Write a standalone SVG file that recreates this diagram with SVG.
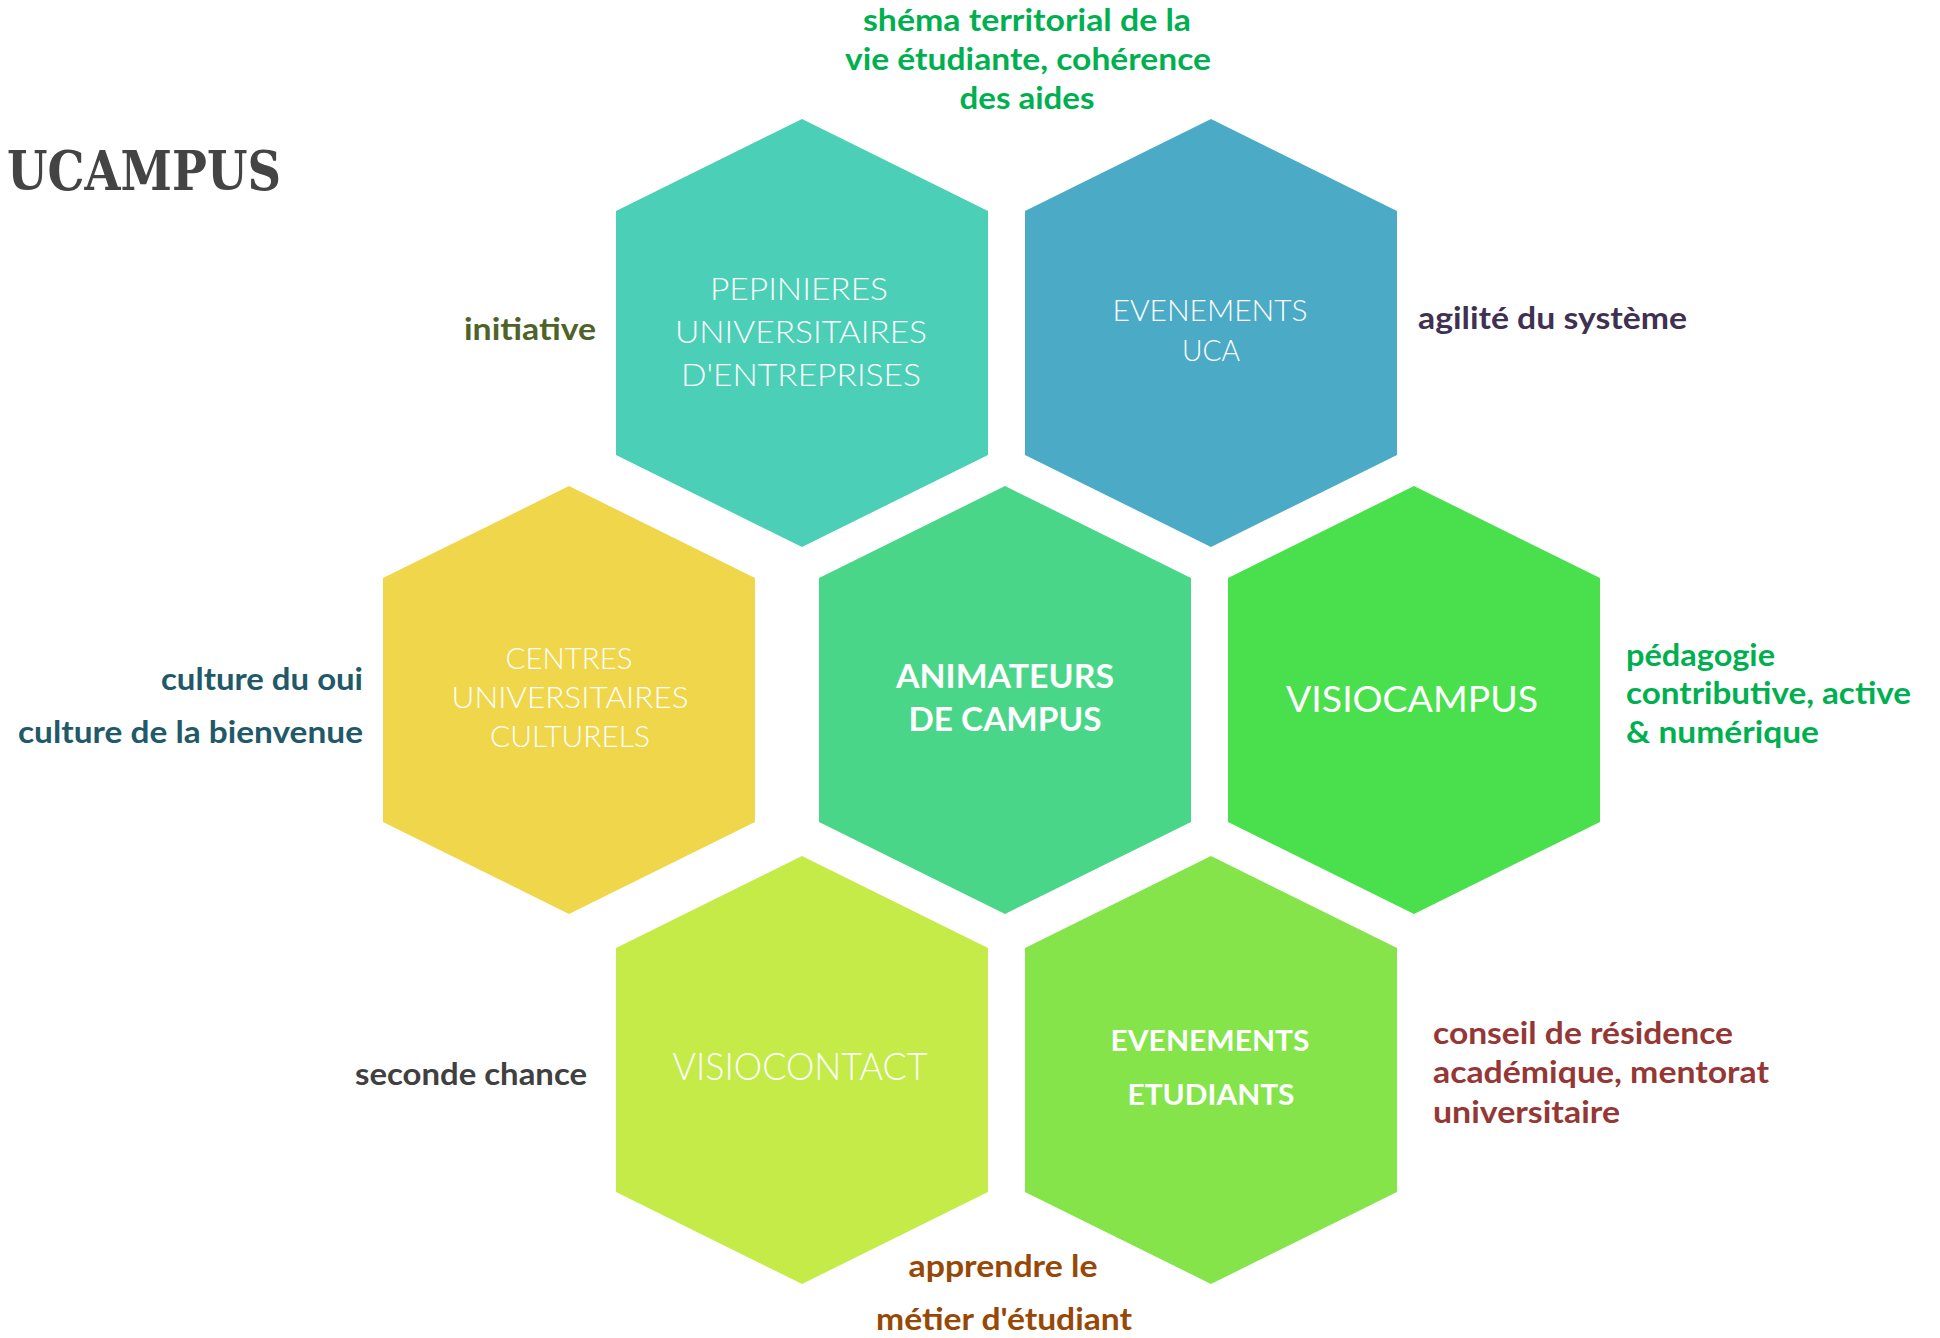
<svg xmlns="http://www.w3.org/2000/svg" width="1940" height="1338" viewBox="0 0 1940 1338">
<style>
.lbl{font-family:Lato,"Open Sans","Liberation Sans",sans-serif;fill:#ffffff;text-anchor:middle;font-weight:300}
.lblb{font-family:Lato,"Open Sans","Liberation Sans",sans-serif;fill:#ffffff;text-anchor:middle;font-weight:700}
.side{font-family:Lato,"Open Sans","Liberation Sans",sans-serif;font-weight:700;font-size:30px}
.title{font-family:"DejaVu Serif","Liberation Serif",serif;font-weight:700;font-size:55px;fill:#444444}
</style>
<rect width="1940" height="1338" fill="#ffffff"/>
<text class="title" x="7" y="190" textLength="274" lengthAdjust="spacingAndGlyphs">UCAMPUS</text>
<g id="connectors"/>
<g id="node-pepinieres">
<polygon points="802,119 988,211 988,455 802,547 616,455 616,211" fill="#4BCFB6"/>
<text class="lbl" font-size="32" x="799" y="300" textLength="178" lengthAdjust="spacingAndGlyphs">PEPINIERES</text>
<text class="lbl" font-size="32" x="801" y="343" textLength="252" lengthAdjust="spacingAndGlyphs">UNIVERSITAIRES</text>
<text class="lbl" font-size="32" x="801" y="386" textLength="240" lengthAdjust="spacingAndGlyphs">D'ENTREPRISES</text>
</g>
<g id="node-evenements-uca">
<polygon points="1211,119 1397,211 1397,455 1211,547 1025,455 1025,211" fill="#4BABC6"/>
<text class="lbl" font-size="30" x="1210" y="321" textLength="195" lengthAdjust="spacingAndGlyphs">EVENEMENTS</text>
<text class="lbl" font-size="30" x="1211" y="361" textLength="58" lengthAdjust="spacingAndGlyphs">UCA</text>
</g>
<g id="node-centres">
<polygon points="569,486 755,578 755,822 569,914 383,822 383,578" fill="#F0D64B"/>
<text class="lbl" font-size="29" x="569" y="669" textLength="127" lengthAdjust="spacingAndGlyphs">CENTRES</text>
<text class="lbl" font-size="29" x="570" y="708" textLength="237" lengthAdjust="spacingAndGlyphs">UNIVERSITAIRES</text>
<text class="lbl" font-size="29" x="570" y="747" textLength="160" lengthAdjust="spacingAndGlyphs">CULTURELS</text>
</g>
<g id="node-animateurs">
<polygon points="1005,486 1191,578 1191,822 1005,914 819,822 819,578" fill="#4AD689"/>
<text class="lblb" font-size="32" x="1005" y="688" textLength="218" lengthAdjust="spacingAndGlyphs">ANIMATEURS</text>
<text class="lblb" font-size="32" x="1005" y="731" textLength="193" lengthAdjust="spacingAndGlyphs">DE CAMPUS</text>
</g>
<g id="node-visiocampus">
<polygon points="1414,486 1600,578 1600,822 1414,914 1228,822 1228,578" fill="#4AE04D"/>
<text class="lbl" font-size="37" x="1412" y="712" textLength="252" lengthAdjust="spacingAndGlyphs" style="font-weight:400">VISIOCAMPUS</text>
</g>
<g id="node-visiocontact">
<polygon points="802,856 988,948 988,1192 802,1284 616,1192 616,948" fill="#C4EB48"/>
<text class="lbl" font-size="37" x="800" y="1080" textLength="255" lengthAdjust="spacingAndGlyphs">VISIOCONTACT</text>
</g>
<g id="node-evenements-etudiants">
<polygon points="1211,856 1397,948 1397,1192 1211,1284 1025,1192 1025,948" fill="#84E44A"/>
<text class="lblb" font-size="29" x="1210" y="1051" textLength="199" lengthAdjust="spacingAndGlyphs">EVENEMENTS</text>
<text class="lblb" font-size="29" x="1211" y="1105" textLength="167" lengthAdjust="spacingAndGlyphs">ETUDIANTS</text>
</g>
<g id="labels">
<text class="side" fill="#00B050" text-anchor="middle" x="1027" y="31" textLength="328" lengthAdjust="spacingAndGlyphs">shéma territorial de la</text>
<text class="side" fill="#00B050" text-anchor="middle" x="1028" y="70" textLength="366" lengthAdjust="spacingAndGlyphs">vie étudiante, cohérence</text>
<text class="side" fill="#00B050" text-anchor="middle" x="1027" y="109" textLength="135" lengthAdjust="spacingAndGlyphs">des aides</text>
<text class="side" fill="#4F6228" text-anchor="end" x="596" y="340" textLength="132" lengthAdjust="spacingAndGlyphs">initiative</text>
<text class="side" fill="#3F3151" x="1418" y="329" textLength="269" lengthAdjust="spacingAndGlyphs">agilité du système</text>
<text class="side" fill="#215968" text-anchor="end" x="363" y="690" textLength="202" lengthAdjust="spacingAndGlyphs">culture du oui</text>
<text class="side" fill="#215968" text-anchor="end" x="363" y="743" textLength="345" lengthAdjust="spacingAndGlyphs">culture de la bienvenue</text>
<text class="side" fill="#00B050" x="1626" y="666" textLength="149" lengthAdjust="spacingAndGlyphs">pédagogie</text>
<text class="side" fill="#00B050" x="1626" y="704" textLength="285" lengthAdjust="spacingAndGlyphs">contributive, active</text>
<text class="side" fill="#00B050" x="1626" y="743" textLength="193" lengthAdjust="spacingAndGlyphs">&amp; numérique</text>
<text class="side" fill="#404040" text-anchor="end" x="587" y="1085" textLength="232" lengthAdjust="spacingAndGlyphs">seconde chance</text>
<text class="side" fill="#953735" x="1433" y="1044" textLength="300" lengthAdjust="spacingAndGlyphs">conseil de résidence</text>
<text class="side" fill="#953735" x="1433" y="1083" textLength="336" lengthAdjust="spacingAndGlyphs">académique, mentorat</text>
<text class="side" fill="#953735" x="1433" y="1123" textLength="187" lengthAdjust="spacingAndGlyphs">universitaire</text>
<text class="side" fill="#974806" text-anchor="middle" x="1003" y="1277" textLength="189" lengthAdjust="spacingAndGlyphs">apprendre le</text>
<text class="side" fill="#974806" text-anchor="middle" x="1004" y="1330" textLength="256" lengthAdjust="spacingAndGlyphs">métier d'étudiant</text>
</g>
</svg>
